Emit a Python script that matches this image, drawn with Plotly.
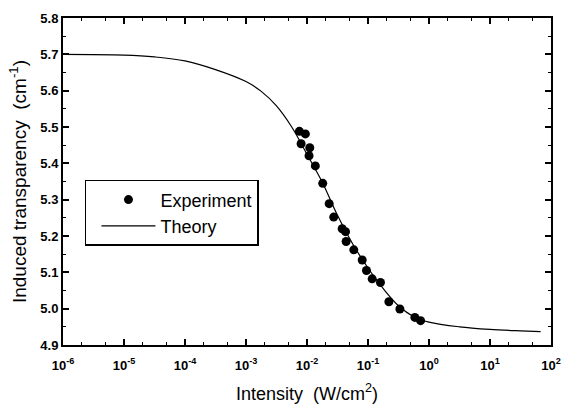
import plotly.graph_objects as go

# Experiment data (intensity W/cm^2, induced transparency cm^-1)
exp_intensity = [0.0075, 0.0094, 0.0080, 0.0111, 0.0108, 0.0137, 0.0181, 0.0231,
                 0.0274, 0.0377, 0.0428, 0.0438, 0.0585, 0.0804, 0.0944, 0.117,
                 0.160, 0.220, 0.333, 0.586, 0.728]
exp_value = [5.488, 5.481, 5.454, 5.443, 5.421, 5.393, 5.345, 5.289,
             5.252, 5.220, 5.212, 5.185, 5.162, 5.134, 5.105, 5.082,
             5.072, 5.019, 4.999, 4.976, 4.967]

# Theory curve
theory_intensity = [1e-6, 1e-5, 3.16e-5, 1e-4, 3.16e-4, 1e-3, 1.78e-3, 3.16e-3,
                    5.62e-3, 1e-2, 1.78e-2, 3.16e-2, 5.62e-2, 0.1, 0.178, 0.316,
                    0.562, 1.0, 3.16, 10.0, 31.6, 67.6]
theory_value = [5.700, 5.698, 5.693, 5.682, 5.658, 5.625, 5.598, 5.558,
                5.500, 5.425, 5.348, 5.257, 5.178, 5.112, 5.055, 5.008,
                4.978, 4.963, 4.950, 4.943, 4.939, 4.937]

x_tickvals = [1e-6, 1e-5, 1e-4, 1e-3, 1e-2, 1e-1, 1e0, 1e1, 1e2]
x_ticktext = ["<b>10<sup>-6</sup></b>", "<b>10<sup>-5</sup></b>", "<b>10<sup>-4</sup></b>",
              "<b>10<sup>-3</sup></b>", "<b>10<sup>-2</sup></b>", "<b>10<sup>-1</sup></b>",
              "<b>10<sup>0</sup></b>", "<b>10<sup>1</sup></b>", "<b>10<sup>2</sup></b>"]
y_tickvals = [4.9, 5.0, 5.1, 5.2, 5.3, 5.4, 5.5, 5.6, 5.7, 5.8]
y_ticktext = ["<b>4.9</b>", "<b>5.0</b>", "<b>5.1</b>", "<b>5.2</b>", "<b>5.3</b>",
              "<b>5.4</b>", "<b>5.5</b>", "<b>5.6</b>", "<b>5.7</b>", "<b>5.8</b>"]

FONT = "Liberation Sans, Arial, sans-serif"

fig = go.Figure()
fig.add_trace(go.Scatter(
    x=exp_intensity, y=exp_value, mode="markers", name="Experiment",
    marker=dict(symbol="circle", size=9, color="black"),
))
fig.add_trace(go.Scatter(
    x=theory_intensity, y=theory_value, mode="lines", name="Theory",
    line=dict(color="black", width=1.2, shape="spline", smoothing=1.0),
))

fig.update_layout(
    width=564, height=404,
    margin=dict(l=63, r=13, t=18, b=59, autoexpand=False),
    paper_bgcolor="white", plot_bgcolor="white",
    font=dict(family=FONT, color="black", size=12),
    showlegend=True,
    legend=dict(
        x=0.045, y=0.505, xanchor="left", yanchor="top",
        bordercolor="black", borderwidth=1.5, bgcolor="white",
        font=dict(family=FONT, size=18, color="black"),
        itemwidth=54, tracegroupgap=0, indentation=10,
    ),
)
fig.update_xaxes(
    type="log", range=[-6, 2], automargin=False,
    tickvals=x_tickvals, ticktext=x_ticktext,
    ticks="inside", ticklen=6, tickwidth=1.5, tickcolor="black",
    minor=dict(ticks="inside", ticklen=3, tickwidth=1, tickcolor="black", showgrid=False),
    showline=True, linecolor="black", linewidth=2, mirror="ticks",
    showgrid=False, zeroline=False, ticklabelstandoff=7,
    tickfont=dict(family=FONT, size=13, color="black"),
    title=dict(text="Intensity  (W/cm<sup>2</sup>)", font=dict(family=FONT, size=18), standoff=16),
)
fig.update_yaxes(
    range=[4.9, 5.8], automargin=False,
    tickvals=y_tickvals, ticktext=y_ticktext,
    ticks="inside", ticklen=6, tickwidth=1.5, tickcolor="black",
    minor=dict(ticks="inside", ticklen=3, tickwidth=1, tickcolor="black",
               dtick=0.05, showgrid=False),
    showline=True, linecolor="black", linewidth=2, mirror="ticks",
    showgrid=False, zeroline=False,
    tickfont=dict(family=FONT, size=13, color="black"),
    title=dict(text="Induced transparency  (cm<sup>-1</sup>)", font=dict(family=FONT, size=19), standoff=9),
)

fig.write_html("out.html")
